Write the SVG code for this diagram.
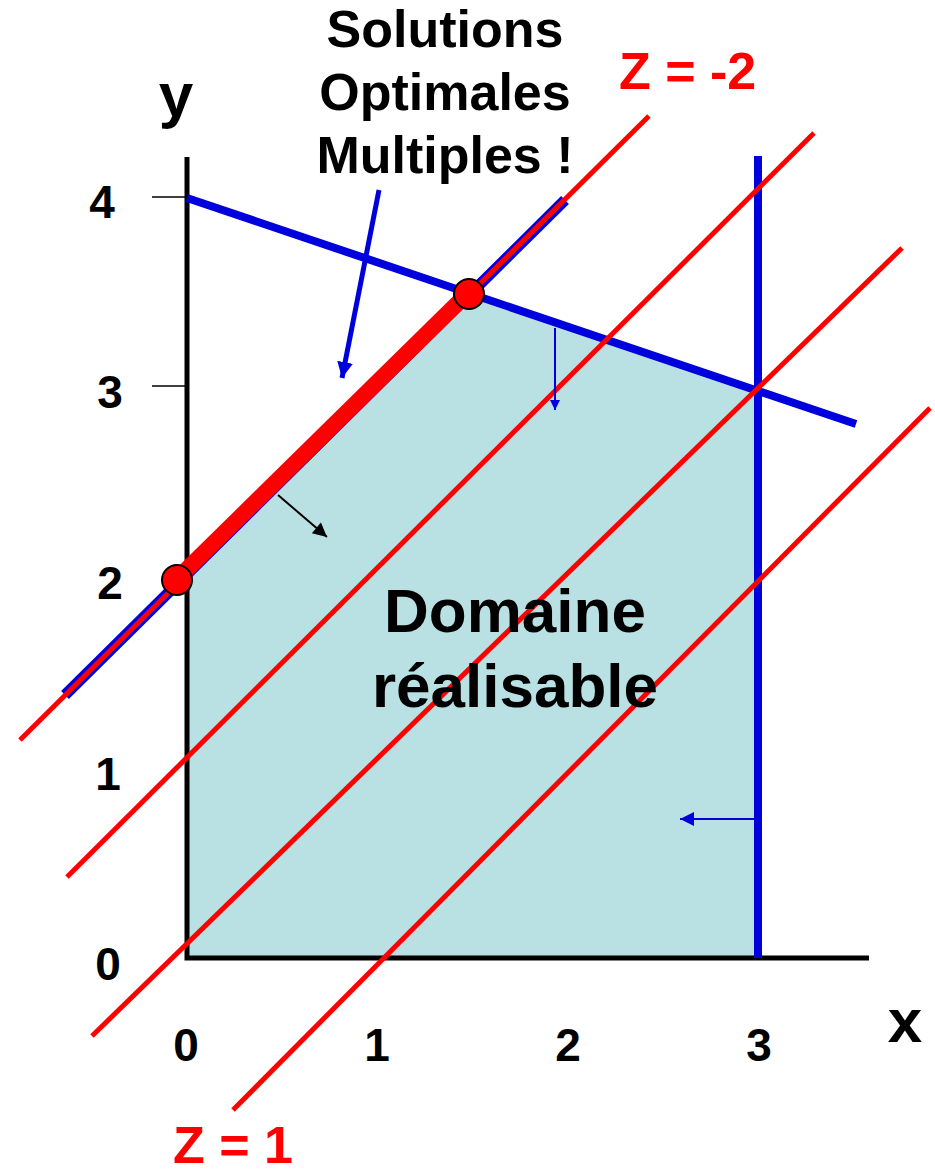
<svg xmlns="http://www.w3.org/2000/svg" width="935" height="1175" viewBox="0 0 935 1175">
<defs>
<style>
text{font-family:"Liberation Sans",Arial,sans-serif;font-weight:bold;}
.lbl{font-size:46px;fill:#000;text-anchor:middle;}
.ax{font-size:62px;fill:#000;text-anchor:middle;}
.title{font-size:52px;fill:#000;text-anchor:middle;}
.dom{font-size:62px;fill:#000;text-anchor:middle;}
.z{font-size:52px;fill:#ff0000;}
.zl{stroke:#ff0000;stroke-width:5;fill:none;}
.bl{stroke:#0000dd;fill:none;}
</style>
<marker id="hb" viewBox="0 0 10 10" refX="10" refY="5" markerWidth="10" markerHeight="12" markerUnits="userSpaceOnUse" orient="auto"><path d="M0,0L10,5L0,10Z" fill="#0000dd"/></marker>
<marker id="hbBig" viewBox="0 0 10 10" refX="10" refY="5" markerWidth="16" markerHeight="17" markerUnits="userSpaceOnUse" orient="auto"><path d="M0,0L10,5L0,10Z" fill="#0000dd"/></marker>
<marker id="hbS" viewBox="0 0 10 10" refX="10" refY="5" markerWidth="15" markerHeight="14" markerUnits="userSpaceOnUse" orient="auto"><path d="M0,0L10,5L0,10Z" fill="#0000dd"/></marker>
<marker id="hk" viewBox="0 0 10 10" refX="10" refY="5" markerWidth="16" markerHeight="14" markerUnits="userSpaceOnUse" orient="auto"><path d="M0,0L10,5L0,10Z" fill="#000"/></marker>
</defs>
<rect width="935" height="1175" fill="#fff"/>
<g id="region">
<polygon points="187,958 187,576 469,294 758,390 758,958" fill="#b9e0e3"/>
</g>
<g id="axes">
<polyline points="187,157 187,958 869,958" fill="none" stroke="#000" stroke-width="5"/>
<line x1="152" y1="197" x2="187" y2="197" stroke="#000" stroke-width="1.5"/>
<line x1="152" y1="386" x2="187" y2="386" stroke="#000" stroke-width="1.5"/>
</g>
<g id="connectors">
<line class="bl" x1="65" y1="695" x2="565" y2="200" stroke-width="11"/>
<line class="bl" x1="187" y1="198" x2="856" y2="424" stroke-width="8"/>
<line class="bl" x1="758" y1="156" x2="758" y2="958" stroke-width="8"/>
<line class="zl" x1="20" y1="740" x2="649" y2="116"/>
<line class="zl" x1="67" y1="877" x2="814" y2="133"/>
<line class="zl" x1="92" y1="1036" x2="902" y2="248"/>
<line class="zl" x1="233" y1="1110" x2="930" y2="408"/>
<line x1="179" y1="577" x2="469" y2="292" stroke="#ff0000" stroke-width="16"/>
<line class="bl" x1="379" y1="190" x2="342" y2="378" stroke-width="5" marker-end="url(#hbBig)"/>
<line class="bl" x1="555" y1="328" x2="555" y2="410" stroke-width="2" marker-end="url(#hb)"/>
<line class="bl" x1="758" y1="819" x2="680" y2="819" stroke-width="2" marker-end="url(#hbS)"/>
<line x1="278" y1="495" x2="327" y2="537" stroke="#000" stroke-width="2" marker-end="url(#hk)"/>
</g>
<g id="points">
<circle cx="177" cy="580" r="15" fill="#ff0000" stroke="#000" stroke-width="2"/>
<circle cx="469" cy="294" r="15" fill="#ff0000" stroke="#000" stroke-width="2"/>
</g>
<g id="labels">
<text class="lbl" x="102" y="218">4</text>
<text class="lbl" x="110" y="408">3</text>
<text class="lbl" x="110" y="599">2</text>
<text class="lbl" x="108" y="790">1</text>
<text class="lbl" x="108" y="980">0</text>
<text class="lbl" x="186" y="1061">0</text>
<text class="lbl" x="377" y="1061">1</text>
<text class="lbl" x="568" y="1061">2</text>
<text class="lbl" x="759" y="1061">3</text>
<text class="ax" x="176" y="116">y</text>
<text class="ax" x="905" y="1042">x</text>
</g>
<g id="title">
<text class="title" x="445" y="47">Solutions</text>
<text class="title" x="445" y="110">Optimales</text>
<text class="title" x="445" y="173">Multiples !</text>
</g>
<g id="domain">
<text class="dom" x="515" y="632">Domaine</text>
<text class="dom" x="515" y="707">réalisable</text>
</g>
<g id="zlabels">
<text class="z" x="173" y="1163">Z = 1</text>
<text class="z" x="619" y="89">Z = -2</text>
</g>
</svg>
